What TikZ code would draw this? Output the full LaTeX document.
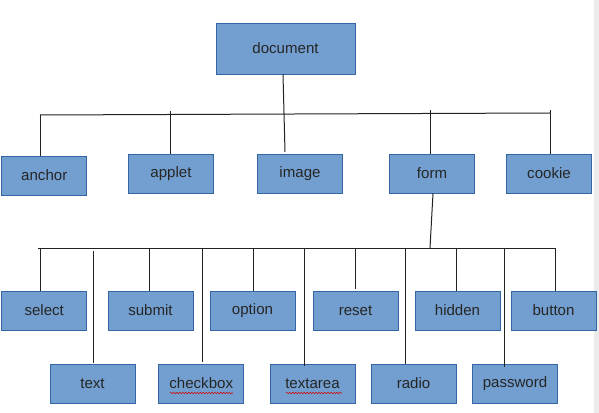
\documentclass[tikz,border=0pt]{standalone}
\usepackage{fontspec}
\setmainfont{Liberation Sans}
\usetikzlibrary{decorations.pathmorphing}
\definecolor{boxfill}{HTML}{729FCF}
\definecolor{boxline}{HTML}{3465A4}
\definecolor{wire}{HTML}{222222}
\begin{document}
\begin{tikzpicture}[x=0.75pt,y=-0.75pt,
  box/.style={draw=boxline,fill=boxfill,line width=0.6pt,inner sep=0pt,
    minimum width=63.75pt,minimum height=29.25pt,font=\fontsize{11.3}{13}\selectfont,text=black!85},
  wire/.style={draw=wire,line width=0.75pt},
  squiggle/.style={draw=red!85!black,line width=0.4pt,decorate,
    decoration={snake,amplitude=0.5pt,segment length=2.2pt}}]
\useasboundingbox[fill=white] (0,0) rectangle (599,413);
\fill[black!8] (594,0) rectangle (599,413);
% root
\node[box,minimum width=104.25pt,minimum height=38.25pt] (doc) at (285.5,48.5) {document};
% level 1
\node[box] (anchor) at (44.25,175.5) {anchor};
\node[box] (applet) at (171,173.5) {applet};
\node[box] (image) at (300,173.5) {image};
\node[box] (form) at (432,173.5) {form};
\node[box] (cookie) at (549,173.5) {cookie};
% level 2 upper
\node[box] (select) at (44.25,310.5) {select};
\node[box] (submit) at (150.5,310.5) {submit};
\node[box] (option) at (252.5,310.5) {option};
\node[box] (reset) at (355.5,310.5) {reset};
\node[box] (hidden) at (457.5,310.5) {hidden};
\node[box] (button) at (553.5,310.5) {button};
% level 2 lower
\node[box] (text) at (92.5,383.5) {text};
\node[box] (checkbox) at (201.25,383.5) {checkbox};
\node[box] (textarea) at (312.5,383.5) {textarea};
\node[box] (radio) at (413.5,383.5) {radio};
\node[box] (password) at (515,383.5) {password};
% first bar
\coordinate (barL) at (40,115);
\coordinate (barR) at (550,113);
\draw[wire] (barL) -- (barR);
\draw[wire] (doc.south -| 283,0) -- (285,152);
\draw[wire] (barL) -- (barL |- anchor.north);
\draw[wire] (170,111) -- (170,0 |- applet.north);
\draw[wire] (430,110) -- (430,0 |- form.north);
\draw[wire] (barR) ++(0,-3) -- (550,0 |- cookie.north);
% second bar
\coordinate (bar2L) at (38,248);
\coordinate (bar2R) at (555,248);
\draw[wire] (bar2L) -- (bar2R);
\draw[wire] (form.south -| 433,0) -- (430,248);
\draw[wire] (40,248) -- (40,0 |- select.north);
\draw[wire] (149,248) -- (149,0 |- submit.north);
\draw[wire] (253,248) -- (253,0 |- option.north);
\draw[wire] (355,248) -- (355,289);
\draw[wire] (456,248) -- (456,0 |- hidden.north);
\draw[wire] (bar2R) -- (555,0 |- button.north);
\draw[wire] (93.5,251) -- (93.5,363);
\draw[wire] (202,248) -- (202,362);
\draw[wire] (304,248) -- (304,366);
\draw[wire] (405,248) -- (405,0 |- radio.north);
\draw[wire] (504.5,248) -- (504.5,367);
% spell-check marks
\draw[squiggle] (170,393) -- (233,393);
\draw[squiggle] (286,393) -- (342,393);
\end{tikzpicture}
\end{document}
